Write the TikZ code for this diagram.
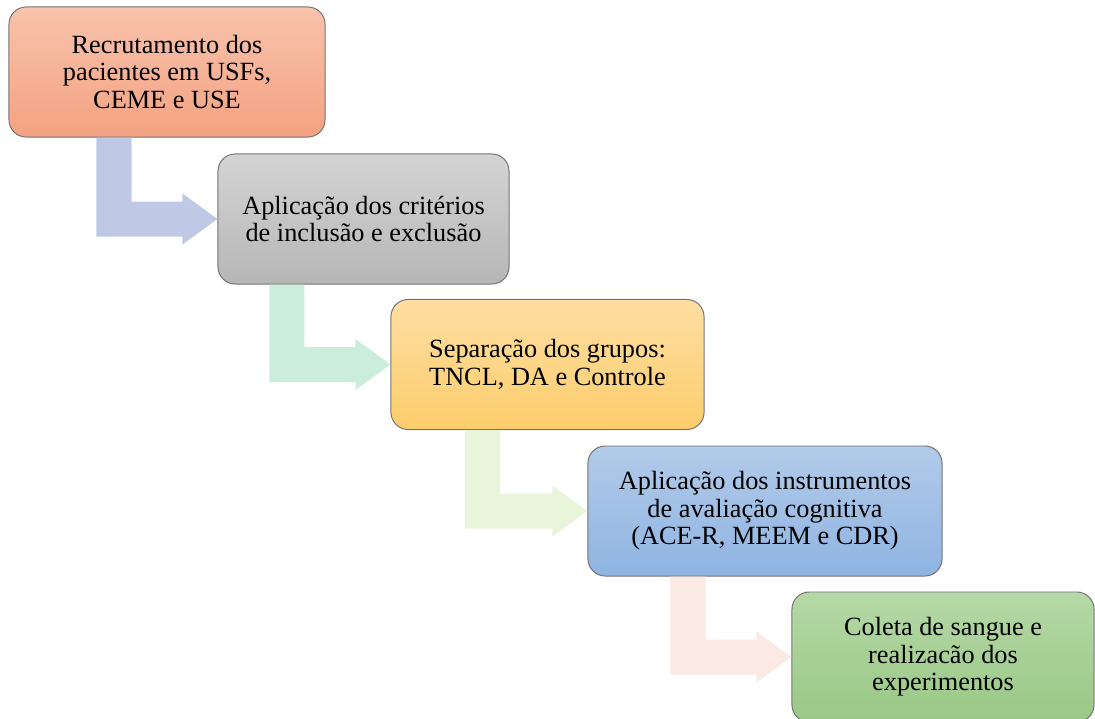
\documentclass[tikz,border=0pt]{standalone}
\usepackage{fontspec}
\setmainfont{Liberation Serif}
\usepackage{xcolor}
\usepackage{tikz}
\usetikzlibrary{calc,shadings}
\definecolor{recTop}{HTML}{F8C3AC}
\definecolor{recBot}{HTML}{F4A282}
\definecolor{critTop}{HTML}{D4D4D4}
\definecolor{critBot}{HTML}{B6B6B6}
\definecolor{sepTop}{HTML}{FEDEA2}
\definecolor{sepBot}{HTML}{FCCD6C}
\definecolor{instTop}{HTML}{B2CBE9}
\definecolor{instBot}{HTML}{8FB4E2}
\definecolor{colTop}{HTML}{B6D8A6}
\definecolor{colBot}{HTML}{99C886}
\definecolor{flowA}{HTML}{BFC9E5}
\definecolor{flowB}{HTML}{CBEEDC}
\definecolor{flowC}{HTML}{E8F5DB}
\definecolor{flowD}{HTML}{FBEAE4}
\def\flowto#1#2#3#4{\fill[#4] let \p1=([xshift=#3]#1.south west), \p2=(#2.west) in
  (\x1-0.4375cm,\y1) -- (\x1-0.4375cm,\y2-0.4375cm) -- (\x2-0.875cm,\y2-0.4375cm)
  -- (\x2-0.875cm,\y2-0.6375cm) -- (\p2) -- (\x2-0.875cm,\y2+0.6375cm)
  -- (\x2-0.875cm,\y2+0.4375cm) -- (\x1+0.4375cm,\y2+0.4375cm) -- (\x1+0.4375cm,\y1) -- cycle}
\tikzstyle{stage}=[draw=black!55,line width=0.7pt,rounded corners=0.43cm,align=center,inner sep=2pt,
  font=\fontsize{18.7}{19.6}\selectfont,minimum height=3.25cm]

\begin{document}
\begin{tikzpicture}[x=0.025cm,y=-0.025cm]
    \useasboundingbox (0,0) rectangle (1095,718);
    \node[stage,top color=recTop,bottom color=recBot,minimum width=7.9cm] (rec) at (167,72)
      {Recrutamento dos\\pacientes em USFs,\\CEME e USE};
    \node[stage,top color=critTop,bottom color=critBot,minimum width=7.275cm] (crit) at (363.5,219)
      {Aplicação dos critérios\\de inclusão e exclusão};
    \node[stage,top color=sepTop,bottom color=sepBot,minimum width=7.825cm] (sep) at (547.5,364.5)
      {Separação dos grupos:\\TNCL, DA e Controle};
    \node[stage,top color=instTop,bottom color=instBot,minimum width=8.85cm] (inst) at (765,511)
      {Aplicação dos instrumentos\\de avaliação cognitiva\\(ACE-R, MEEM e CDR)};
    \node[stage,top color=colTop,bottom color=colBot,minimum width=7.55cm] (col) at (943,657)
      {Coleta de sangue e\\realizacão dos\\experimentos};
    \flowto{rec}{crit}{2.6375cm}{flowA};
    \flowto{crit}{sep}{1.7375cm}{flowB};
    \flowto{sep}{inst}{2.3cm}{flowC};
    \flowto{inst}{col}{2.5125cm}{flowD};
\end{tikzpicture}
\end{document}
